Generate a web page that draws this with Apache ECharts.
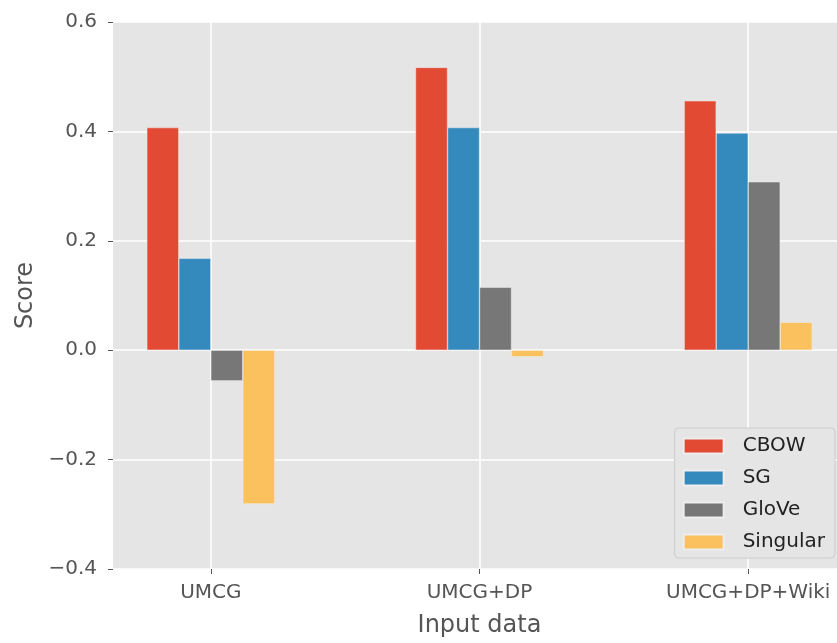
<!DOCTYPE html>
<html>
<head>
<meta charset="utf-8">
<script src="https://cdn.jsdelivr.net/npm/echarts@6/dist/echarts.min.js"></script>
<style>
  html, body { margin: 0; padding: 0; background: #fff; }
  #chart { width: 837px; height: 643px; }
</style>
</head>
<body>
<div id="chart"></div>
<script>
// input data sets on the x axis
const categories = ["UMCG", "UMCG+DP", "UMCG+DP+Wiki"];
// scores per model
const cbow = [0.407, 0.517, 0.456];
const sg = [0.168, 0.407, 0.397];
const glove = [-0.056, 0.115, 0.308];
const singular = [-0.281, -0.012, 0.051];
const yTicks = [-0.4, -0.2, 0.0, 0.2, 0.4, 0.6];

const font = "DejaVu Sans";
const textColor = "#555555";

// bars sit on a value axis at the category index so the margins match
function toPoints(values) {
  return values.map((v, i) => [i, v]);
}
const catIdx = categories.map((c, i) => i);

function barSeries(name, values, color) {
  return {
    name: name,
    type: "bar",
    data: toPoints(values),
    barWidth: 32,
    barGap: "0%",
    itemStyle: { color: color, borderColor: "#EEEEEE", borderWidth: 0.5 },
  };
}

const chart = echarts.init(document.getElementById("chart"));
chart.setOption({
  animation: false,
  textStyle: { fontFamily: font },
  grid: {
    left: 113,
    top: 22,
    width: 733, // plot runs past the right edge of the picture
    bottom: 74,
    show: true,
    backgroundColor: "#E5E5E5",
    borderWidth: 0,
    containLabel: false,
    outerBoundsMode: "none",
  },
  legend: {
    orient: "vertical",
    right: 2,
    bottom: 85,
    icon: "rect",
    itemWidth: 40,
    itemHeight: 15,
    itemGap: 12,
    padding: [8, 10, 6, 8],
    backgroundColor: "#E5E5E5",
    borderColor: "#CCCCCC",
    borderWidth: 1,
    borderRadius: 4,
    textStyle: {
      fontFamily: font,
      fontSize: 20,
      color: "#222222",
      padding: [0, 0, 0, 14],
    },
  },
  xAxis: {
    type: "value",
    min: -0.364,
    max: 2.364,
    name: "Input data",
    nameLocation: "middle",
    nameGap: 45,
    nameTextStyle: { fontFamily: font, fontSize: 24, color: textColor },
    axisLine: { show: false, onZero: false },
    axisTick: {
      show: true,
      length: 5,
      customValues: catIdx,
      lineStyle: { color: textColor, width: 1 },
    },
    axisLabel: {
      customValues: catIdx,
      margin: 14,
      fontFamily: font,
      fontSize: 20,
      color: textColor,
      formatter: (v) => categories[Math.round(v)],
    },
    splitLine: { show: true, lineStyle: { color: "#FFFFFF", width: 1.5 } },
  },
  yAxis: {
    type: "value",
    min: -0.4,
    max: 0.6,
    interval: 0.2,
    name: "Score",
    nameLocation: "middle",
    nameGap: 74,
    nameTextStyle: { fontFamily: font, fontSize: 24, color: textColor },
    axisLine: { show: false, onZero: false },
    axisTick: { show: true, length: 5, lineStyle: { color: textColor, width: 1 } },
    axisLabel: {
      customValues: yTicks,
      margin: 16,
      fontFamily: font,
      fontSize: 20,
      color: textColor,
      formatter: (v) => v.toFixed(1).replace("-", "\u2212"),
    },
    splitLine: { show: true, lineStyle: { color: "#FFFFFF", width: 1.5 } },
  },
  series: [
    barSeries("CBOW", cbow, "#E24A33"),
    barSeries("SG", sg, "#348ABD"),
    barSeries("GloVe", glove, "#777777"),
    barSeries("Singular", singular, "#FBC15E"),
  ],
});
</script>
</body>
</html>
